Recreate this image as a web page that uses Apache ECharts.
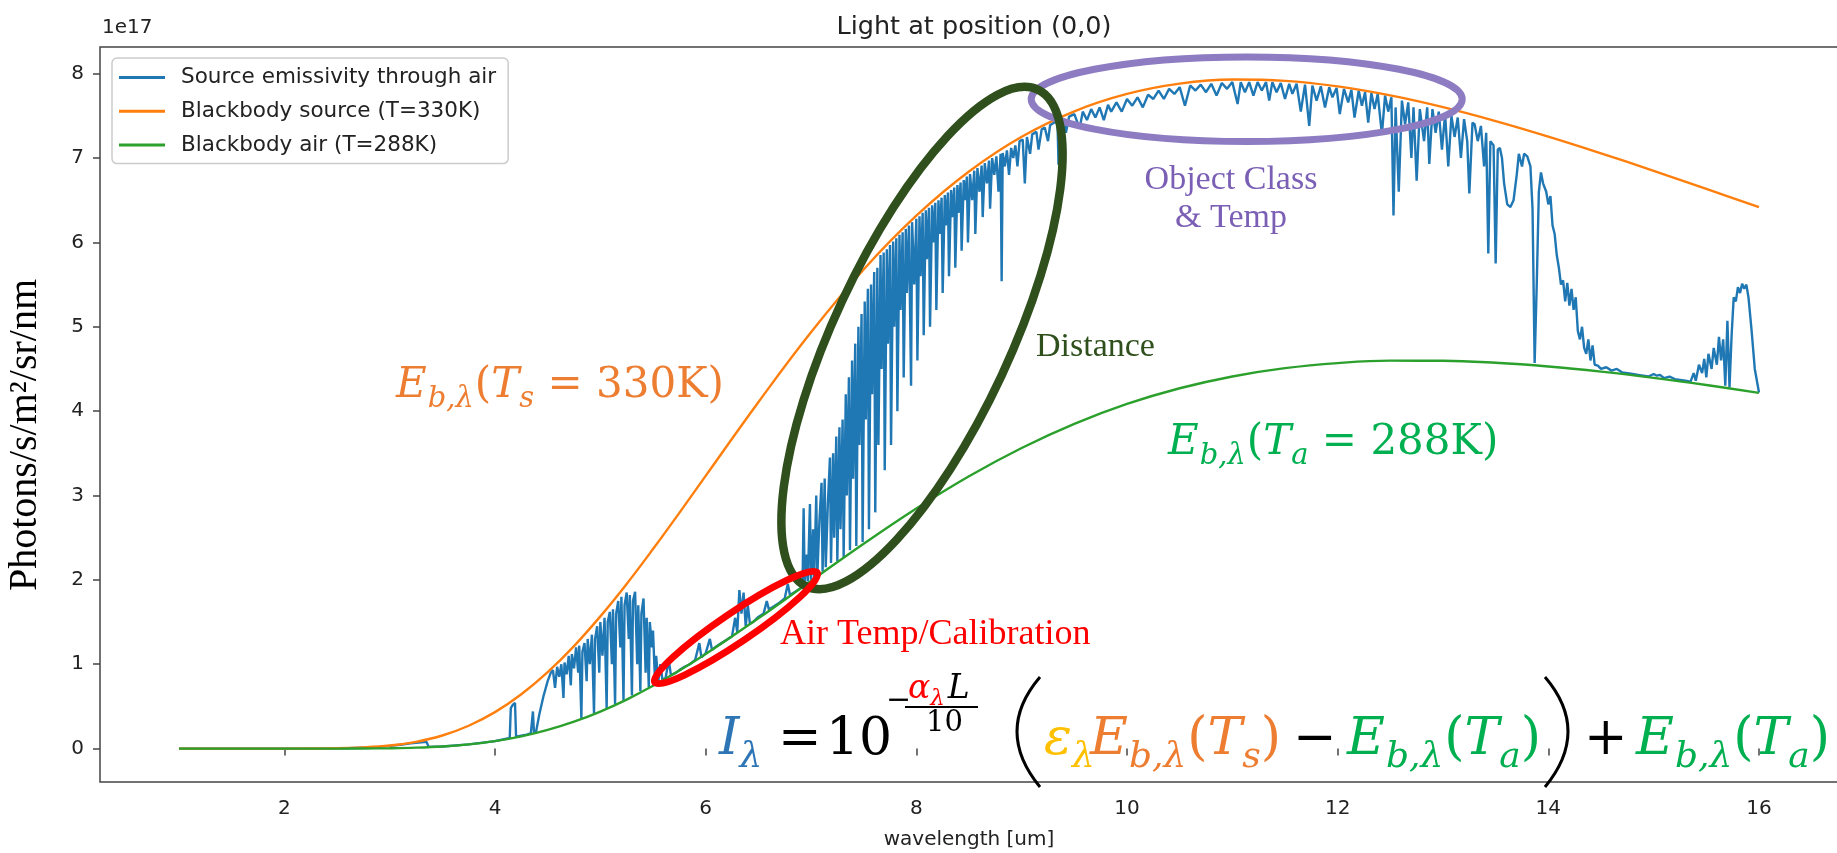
<!DOCTYPE html>
<html><head><meta charset="utf-8">
<script src="https://cdn.jsdelivr.net/npm/echarts@6/dist/echarts.min.js"></script>
<style>html,body{margin:0;padding:0;background:#fff}#chart{width:1837px;height:853px}</style>
</head><body><div id="chart"></div>
<script>
// ---------------- DATA (intensities in units of 1e17 photons/s/m²/sr/nm) ----------------
const bbWavelength = [1,1.5,2,2.5,2.75,3,3.25,3.5,3.75,4,4.25,4.5,4.75,5,5.25,5.5,5.75,6,6.5,7,7.5,8,8.5,9,9.5,10,10.5,11,11.5,12,12.5,13,13.5,14,14.5,15,15.5,16];
const bbSource330 = [0,0,0,0.004,0.014,0.036,0.080,0.155,0.271,0.432,0.644,0.906,1.215,1.567,1.952,2.365,2.794,3.233,4.106,4.935,5.679,6.316,6.840,7.252,7.554,7.760,7.882,7.930,7.915,7.849,7.742,7.603,7.438,7.254,7.056,6.848,6.634,6.417];
const bbAir288 = [0,0,0,0,0.001,0.004,0.011,0.025,0.050,0.088,0.144,0.221,0.319,0.439,0.581,0.744,0.925,1.120,1.544,1.987,2.428,2.846,3.228,3.563,3.849,4.085,4.271,4.411,4.509,4.569,4.598,4.597,4.573,4.529,4.468,4.394,4.309,4.216];

// source emissivity through air: [wavelength um, intensity] read region by region
const blueShortwave = [[1,0],[1.5,0],[2,0],[2.5,0.002],[2.6,0.004],[2.8,0.013],[2.9,0.02],[3.0,0.032],[3.1,0.045],[3.2,0.062],[3.3,0.075],[3.35,0.08],[3.37,0.02],[3.5,0.025],[3.75,0.05],[4.0,0.088],[4.14,0.125],[4.15,0.48],[4.17,0.52],[4.19,0.54],[4.2,0.14],[4.3,0.165],[4.34,0.18],[4.36,0.44],[4.37,0.19],[4.39,0.2],[4.42,0.4],[4.46,0.62],[4.5,0.8],[4.53,0.9]];
const blueMidwave = [[4.55,0.93],[4.57,0.72],[4.59,0.97],[4.61,0.85],[4.63,1.0],[4.65,0.6],[4.66,1.02],[4.68,0.88],[4.7,1.1],[4.72,0.75],[4.73,1.12],[4.75,0.95],[4.77,1.2],[4.79,0.9],[4.8,1.22],[4.82,0.36],[4.83,1.15],[4.85,1.25],[4.87,0.8],[4.88,1.3],[4.9,1.0],[4.92,1.35],[4.94,0.42],[4.95,1.3],[4.97,1.45],[4.99,0.9],[5.0,1.5],[5.02,1.1],[5.04,1.55],[5.06,0.48],[5.07,1.5],[5.09,1.62],[5.11,1.0],[5.12,1.65],[5.14,0.53],[5.15,1.6],[5.17,1.75],[5.19,1.2],[5.2,1.8],[5.22,0.57],[5.23,1.7],[5.25,1.85],[5.27,1.3],[5.28,1.82],[5.3,0.63],[5.31,1.75],[5.33,1.86],[5.35,1.0],[5.36,1.7],[5.38,0.68],[5.39,1.6],[5.41,1.78],[5.43,0.9],[5.44,1.55],[5.46,0.73],[5.47,1.5],[5.49,1.2],[5.5,1.4],[5.52,0.77],[5.53,1.1],[5.55,0.79],[5.57,1.0],[5.59,0.81],[5.62,0.84],[5.65,1.05],[5.67,0.87],[5.72,0.9]];
const blueWaterBand = [[5.75,0.93],[5.8,0.97],[5.85,1.0],[5.9,1.05],[5.94,1.25],[5.96,1.08],[6.0,1.13],[6.04,1.3],[6.06,1.17],[6.1,1.21],[6.15,1.25],[6.2,1.29],[6.25,1.33],[6.28,1.55],[6.3,1.38],[6.32,1.88],[6.34,1.6],[6.36,1.85],[6.38,1.45],[6.4,1.7],[6.42,1.48],[6.45,1.5],[6.5,1.56],[6.55,1.6],[6.58,1.75],[6.6,1.65],[6.7,1.73],[6.75,1.78],[6.78,1.95],[6.8,1.82],[6.85,1.86],[6.9,1.9]];
const blueDistance = [[6.92,1.95],[6.93,2.85],[6.94,1.96],[6.96,2.3],[6.97,1.98],[6.99,2.9],[7.0,2.0],[7.02,2.6],[7.03,2.02],[7.05,3.0],[7.06,2.05],[7.08,2.7],[7.1,3.15],[7.11,2.1],[7.13,3.2],[7.14,2.15],[7.16,2.9],[7.18,3.45],[7.19,2.2],[7.21,3.5],[7.22,2.5],[7.24,3.7],[7.25,2.22],[7.27,3.81],[7.28,2.6],[7.3,3.9],[7.31,2.27],[7.33,4.2],[7.34,3.0],[7.36,4.4],[7.37,2.35],[7.39,4.6],[7.4,3.2],[7.42,4.8],[7.43,2.4],[7.45,5.0],[7.46,3.6],[7.48,5.15],[7.49,2.45],[7.51,5.3],[7.52,3.9],[7.54,5.45],[7.55,2.6],[7.57,5.5],[7.58,4.2],[7.6,5.65],[7.61,2.8],[7.63,5.7],[7.64,3.6],[7.66,5.85],[7.67,4.5],[7.69,5.88],[7.7,3.3],[7.72,5.92],[7.73,4.8],[7.75,5.97],[7.76,3.6],[7.78,6.01],[7.79,5.0],[7.81,6.05],[7.82,4.0],[7.84,6.09],[7.85,5.2],[7.87,6.12],[7.88,4.4],[7.9,6.16],[7.91,5.4],[7.93,6.2],[7.95,4.3],[7.96,6.24],[7.98,5.5],[8.0,6.28],[8.01,4.6],[8.03,6.31],[8.04,5.6],[8.06,6.35],[8.07,4.9],[8.09,6.38],[8.1,5.8],[8.12,6.41],[8.13,5.0],[8.15,6.44],[8.16,6.0],[8.18,6.47],[8.19,5.2],[8.21,6.5],[8.22,6.1],[8.24,6.53],[8.25,5.4],[8.27,6.56],[8.28,6.2],[8.3,6.59],[8.31,5.6],[8.33,6.62],[8.34,6.3],[8.36,6.65],[8.37,5.7],[8.39,6.68],[8.4,6.35],[8.42,6.71],[8.43,5.9],[8.45,6.74],[8.46,6.5],[8.48,6.78],[8.49,6.0],[8.51,6.81],[8.53,6.5],[8.55,6.85],[8.56,6.1],[8.58,6.88],[8.6,6.6],[8.62,6.91],[8.63,6.3],[8.65,6.94],[8.67,6.7],[8.69,6.97],[8.7,6.4],[8.72,7.0],[8.74,6.8],[8.76,7.02],[8.78,6.6],[8.8,7.05],[8.81,5.54],[8.82,7.06],[8.84,6.9],[8.86,7.09],[8.88,6.8],[8.9,7.12],[8.92,7.0],[8.94,7.15]];
const blueWindow = [[8.96,6.9],[8.98,7.2],[9.01,7.22],[9.03,6.7],[9.05,7.25],[9.08,7.05],[9.1,7.28],[9.14,7.31],[9.16,7.1],[9.19,7.34],[9.22,7.36],[9.25,7.2],[9.27,7.39],[9.31,7.42],[9.34,7.43],[9.35,6.92],[9.36,7.45],[9.4,7.46],[9.42,7.3],[9.45,7.49],[9.5,7.52],[9.55,7.35],[9.58,7.55],[9.62,7.45],[9.66,7.58],[9.7,7.48],[9.74,7.6],[9.78,7.45],[9.82,7.63],[9.85,7.55],[9.9,7.66],[9.95,7.55],[10.0,7.7],[10.05,7.62],[10.1,7.72],[10.15,7.6],[10.2,7.75],[10.25,7.7],[10.3,7.8],[10.35,7.7],[10.4,7.82],[10.45,7.76],[10.5,7.84],[10.55,7.62],[10.6,7.86],[10.65,7.8],[10.7,7.87],[10.75,7.78],[10.8,7.88],[10.85,7.74],[10.9,7.89],[10.95,7.82],[11.0,7.9],[11.05,7.64],[11.08,7.9],[11.12,7.78],[11.16,7.9],[11.2,7.74],[11.24,7.9],[11.28,7.8],[11.32,7.9],[11.35,7.68],[11.38,7.9],[11.42,7.78],[11.46,7.89],[11.5,7.7],[11.54,7.88],[11.57,7.76],[11.61,7.88],[11.65,7.55],[11.69,7.87],[11.73,7.38],[11.76,7.86],[11.8,7.68],[11.84,7.85],[11.88,7.6],[11.92,7.84],[11.95,7.72],[11.99,7.83],[12.02,7.52],[12.06,7.82],[12.1,7.66],[12.13,7.81],[12.16,7.48],[12.2,7.8],[12.23,7.62],[12.26,7.78],[12.29,7.42],[12.32,7.77],[12.35,7.58],[12.38,7.76],[12.42,7.28],[12.45,7.74],[12.48,7.55],[12.51,7.72],[12.53,6.32],[12.55,7.6],[12.58,6.6],[12.61,7.68],[12.64,7.4],[12.67,7.66],[12.7,7.0],[12.72,7.6],[12.75,6.73],[12.78,7.58],[12.82,7.2],[12.85,7.6],[12.87,6.93],[12.9,7.58],[12.93,7.3],[12.96,7.55],[12.99,7.1],[13.02,7.52],[13.05,6.9],[13.08,7.5],[13.11,7.25],[13.14,7.48],[13.17,7.0],[13.2,7.46],[13.23,7.2],[13.25,6.58],[13.28,7.42]];
const blueLongwave = [[13.3,7.4],[13.33,7.2],[13.36,7.38],[13.39,6.9],[13.41,7.3],[13.43,5.87],[13.45,7.2],[13.48,7.15],[13.5,5.75],[13.52,7.1],[13.54,7.12],[13.56,7.0],[13.58,6.7],[13.61,6.45],[13.64,6.42],[13.67,6.5],[13.7,6.8],[13.72,7.05],[13.75,6.9],[13.77,7.05],[13.8,7.02],[13.83,6.9],[13.85,6.4],[13.87,4.57],[13.89,5.5],[13.91,6.6],[13.93,6.83],[13.95,6.7],[13.98,6.6],[14.0,6.45],[14.02,6.55],[14.04,6.2],[14.06,6.1],[14.08,5.85],[14.1,5.7],[14.12,5.5],[14.14,5.55],[14.16,5.3],[14.18,5.52],[14.2,5.25],[14.22,5.45],[14.24,5.2],[14.26,5.35],[14.28,4.95],[14.3,4.85],[14.32,5.0],[14.34,4.75],[14.36,4.68],[14.38,4.85],[14.4,4.6],[14.42,4.78],[14.44,4.55],[14.47,4.54],[14.5,4.5],[14.55,4.52],[14.6,4.48],[14.65,4.5],[14.7,4.46],[14.75,4.45],[14.8,4.44],[14.85,4.43],[14.9,4.42],[14.95,4.41],[15.0,4.44],[15.03,4.42],[15.06,4.43],[15.1,4.39],[15.15,4.41],[15.2,4.38],[15.25,4.37],[15.3,4.36],[15.35,4.35],[15.38,4.45],[15.4,4.36],[15.43,4.55],[15.46,4.45],[15.48,4.62],[15.5,4.4],[15.52,4.68],[15.55,4.5],[15.57,4.75],[15.6,4.55],[15.62,4.88],[15.64,4.6],[15.66,4.85],[15.68,4.3],[15.7,5.07],[15.72,4.28],[15.74,4.9],[15.76,5.35],[15.78,5.3],[15.8,5.47],[15.82,5.4],[15.84,5.51],[15.86,5.45],[15.88,5.5],[15.9,5.35],[15.93,4.95],[15.96,4.5],[16.0,4.22]];

const xTickValues = [2,4,6,8,10,12,14,16];
const yTickValues = [0,1,2,3,4,5,6,7,8];
const seriesNames = ['Source emissivity through air','Blackbody source (T=330K)','Blackbody air (T=288K)'];

// ---------------- CHART ----------------
const chart = echarts.init(document.getElementById('chart'), null, {renderer:'canvas'});
const blueData = [].concat(blueShortwave, blueMidwave, blueWaterBand, blueDistance, blueWindow, blueLongwave);
const srcData = bbWavelength.map((w,i)=>[w, bbSource330[i]]);
const airData = bbWavelength.map((w,i)=>[w, bbAir288[i]]);

const C = {blue:'#2e75b6', orange:'#ed7d31', green:'#00b050', gold:'#ffc000', red:'#ff0000', black:'#000000'};
const meas = document.createElement('canvas').getContext('2d');
function fontStr(p){ return (p.it?'italic ':'') + p.fs + 'px ' + (p.fam || '"DejaVu Serif"'); }
function layoutMath(pieces, baseline){
  const out=[]; let x=0;
  for(const p of pieces){
    if(p.x!==undefined) x=p.x;
    if(p.gap) x+=p.gap;
    const f=fontStr(p);
    meas.font=f;
    const w=meas.measureText(p.t).width;
    const by=baseline+(p.dy||0);
    out.push({type:'text', silent:true, z:100, style:{text:p.t, x:x, y:by-0.32*p.fs, font:f, fill:p.c||C.black, textAlign:'left', textVerticalAlign:'middle'}});
    x+=w;
  }
  return out;
}
function ebl(col, sub, F, S, sd, x0){
  return [
    {x:x0, t:'E', it:1, fs:F, c:col},
    {t:'b,λ', it:1, fs:S, dy:sd, c:col, gap:1},
    {t:'(', fs:F, c:col, gap:1},
    {t:'T', it:1, fs:F, c:col},
    {t:sub, it:1, fs:S, dy:sd, c:col}
  ];
}
const LF=42, LS=29;
const orangeLabel = ebl(C.orange,'s',LF,LS,9,396).concat([{t:' = ',fs:LF,c:C.orange},{t:'330K',fs:LF,c:C.orange},{t:')',fs:LF,c:C.orange}]);
const greenLabel = ebl(C.green,'a',LF,LS,9,1168).concat([{t:' = ',fs:LF,c:C.green},{t:'288K',fs:LF,c:C.green},{t:')',fs:LF,c:C.green}]);
const F=52,S=36,SD=12;
const mainFormula = [
  {x:719,t:'I',it:1,fs:F,c:C.blue},{t:'λ',it:1,fs:S,dy:SD,c:C.blue},
  {x:778,t:'=',fs:F},
  {x:826,t:'10',fs:F},
  {x:886,t:'−',fs:30,dy:-46},
  {x:908,t:'α',it:1,fs:33,dy:-57,c:C.red},{t:'λ',it:1,fs:23,dy:-51,c:C.red},{t:'L',it:1,fs:33,dy:-57,gap:3},
  {x:926,t:'10',fs:29,dy:-24},
  {x:1044,t:'ε',it:1,fs:F,c:C.gold},{t:'λ',it:1,fs:S,dy:SD,c:C.gold}
].concat(ebl(C.orange,'s',F,S,SD,1090), [{t:')',fs:F,c:C.orange}],
  [{x:1293,t:'−',fs:F}],
  ebl(C.green,'a',F,S,SD,1347), [{t:')',fs:F,c:C.green}],
  [{x:1584,t:'+',fs:F}],
  ebl(C.green,'a',F,S,SD,1636), [{t:')',fs:F,c:C.green}]);

function serifText(t, x, y, fs, col, align){
  return {type:'text', silent:true, z:100, style:{text:t, x:x, y:y, font:fs+'px "Liberation Serif"', fill:col, textAlign:align||'left', textVerticalAlign:'middle'}};
}

const graphics = [].concat(
  layoutMath(orangeLabel, 400),
  layoutMath(greenLabel, 457),
  layoutMath(mainFormula, 757),
  [
    {type:'line', silent:true, z:100, shape:{x1:905,y1:707,x2:978,y2:707}, style:{stroke:'#000',lineWidth:2}},
    {type:'bezierCurve', silent:true, z:100, shape:{x1:1040,y1:677,cpx1:994,cpy1:731,x2:1040,y2:787}, style:{stroke:'#000',lineWidth:3,fill:null}},
    {type:'bezierCurve', silent:true, z:100, shape:{x1:1545,y1:677,cpx1:1591,cpy1:731,x2:1545,y2:787}, style:{stroke:'#000',lineWidth:3,fill:null}},
    {type:'ellipse', silent:true, z:90, x:1246.7, y:99.2, shape:{cx:0,cy:0,rx:215.5,ry:42.3}, style:{fill:'none',stroke:'#8e7cc3',lineWidth:7}},
    {type:'ellipse', silent:true, z:90, x:922, y:338, rotation:-25*Math.PI/180, shape:{cx:0,cy:0,rx:88,ry:274}, style:{fill:'none',stroke:'#2f4f1c',lineWidth:8.5}},
    {type:'ellipse', silent:true, z:90, x:736, y:627.5, rotation:34*Math.PI/180, shape:{cx:0,cy:0,rx:98,ry:15}, style:{fill:'none',stroke:'#ff0000',lineWidth:7}},
    serifText('Object Class', 1231, 180, 34, '#7a5fb5', 'center'),
    serifText('& Temp', 1231, 218, 34, '#7a5fb5', 'center'),
    serifText('Distance', 1036, 347, 34, '#2f4f1c'),
    serifText('Air Temp/Calibration', 780, 635, 36, '#ff0000'),
    {type:'text', silent:true, z:100, x:25, y:435, rotation:Math.PI/2, style:{text:'Photons/s/m²/sr/nm', x:0, y:0, font:'40px "Liberation Serif"', fill:'#000', textAlign:'center', textVerticalAlign:'middle'}},
    {type:'text', silent:true, z:100, style:{text:'1e17', x:102, y:28, font:'20px "DejaVu Sans"', fill:'#222', textAlign:'left', textVerticalAlign:'middle'}}
  ]
);

const axisCol = '#444';
chart.setOption({
  animation:false,
  backgroundColor:'#ffffff',
  title:{text:'Light at position (0,0)', left:969, top:9, textAlign:'center', textStyle:{fontSize:25.5, fontWeight:'normal', color:'#222', fontFamily:'DejaVu Sans'}},
  grid:{left:100, top:47, width:1738, height:735, show:true, borderColor:axisCol, borderWidth:1.5, backgroundColor:'transparent', containLabel:false, outerBoundsMode:'none'},
  legend:{orient:'vertical', left:112, top:58, icon:'rect', itemWidth:46, itemHeight:3, itemGap:10.8, padding:[8,12,7,7],
    backgroundColor:'rgba(255,255,255,0.85)', borderColor:'#cccccc', borderWidth:1.5, borderRadius:5,
    textStyle:{fontSize:21.5, fontFamily:'DejaVu Sans', color:'#222', lineHeight:23, padding:[0,0,0,11]},
    data:seriesNames, selectedMode:false},
  xAxis:{type:'value', min:0.25, max:16.75, name:'wavelength [um]', nameLocation:'middle', nameGap:48,
    nameTextStyle:{fontSize:20, color:'#222', fontFamily:'DejaVu Sans'},
    axisLine:{show:false}, splitLine:{show:false},
    axisTick:{show:true, customValues:xTickValues, length:7, lineStyle:{color:axisCol, width:1.5}},
    axisLabel:{customValues:xTickValues, fontSize:20, color:'#222', fontFamily:'DejaVu Sans', margin:17}},
  yAxis:{type:'value', min:-0.396, max:8.316,
    axisLine:{show:false}, splitLine:{show:false},
    axisTick:{show:true, customValues:yTickValues, length:7, lineStyle:{color:axisCol, width:1.5}},
    axisLabel:{customValues:yTickValues, fontSize:20, color:'#222', fontFamily:'DejaVu Sans', margin:16}},
  series:[
    {name:seriesNames[0], type:'line', data:blueData, symbol:'none', showSymbol:false, lineStyle:{color:'#1f77b4', width:2.4}, itemStyle:{color:'#1f77b4'}, z:2},
    {name:seriesNames[1], type:'line', data:srcData, symbol:'none', showSymbol:false, smooth:0.4, lineStyle:{color:'#ff7f0e', width:2.4}, itemStyle:{color:'#ff7f0e'}, z:3},
    {name:seriesNames[2], type:'line', data:airData, symbol:'none', showSymbol:false, smooth:0.4, lineStyle:{color:'#2ca02c', width:2.4}, itemStyle:{color:'#2ca02c'}, z:4}
  ],
  graphic:{elements:graphics}
});
</script></body></html>
